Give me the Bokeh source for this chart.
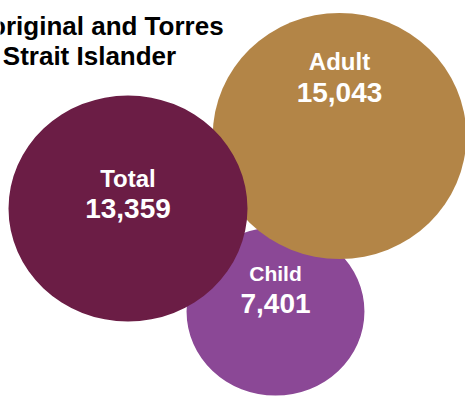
from bokeh.plotting import figure
from bokeh.models import ColumnDataSource
from bokeh.core.properties import value
from bokeh.embed import file_html
from bokeh.resources import INLINE
import math

# ---- data ----
categories = ["Total", "Adult", "Child"]
values = [13359, 15043, 7401]
colors = ["#6B1D45", "#B38547", "#8B4896"]
title_lines = ["Aboriginal and Torres", "Strait Islander"]

# ---- layout (bubble placement) ----
centers_x = [127.5, 339.0, 275.0]
centers_y = [208.0, 135.5, 311.0]
aspect = [0.946, 0.97, 0.946]
scale_h = 119.5 / math.sqrt(13359)
label_dy = [-30.5, -74.5, -38]
number_dy = [0, -43.5, -8.5]
label_sizes = ["24px", "24px", "21px"]
draw_order = [2, 1, 0]

W, H = 465, 396
p = figure(width=W, height=H, x_range=(0, W), y_range=(H, 0),
           output_backend="svg", toolbar_location=None, min_border=0)
p.axis.visible = False
p.grid.visible = False
p.outline_line_color = None
p.background_fill_color = "white"

src = ColumnDataSource(dict(
    x=[centers_x[i] for i in draw_order],
    y=[centers_y[i] for i in draw_order],
    w=[2 * scale_h * math.sqrt(values[i]) for i in draw_order],
    h=[2 * scale_h * aspect[i] * math.sqrt(values[i]) for i in draw_order],
    c=[colors[i] for i in draw_order],
))
p.ellipse(x="x", y="y", width="w", height="h", fill_color="c", line_color=None, source=src)

for i in range(len(categories)):
    p.text(x=[centers_x[i]], y=[centers_y[i] + label_dy[i]], text=[categories[i]],
           text_font=value("Liberation Sans"), text_font_style="bold",
           text_font_size=label_sizes[i], text_color="white",
           text_align="center", text_baseline="middle")
    p.text(x=[centers_x[i]], y=[centers_y[i] + number_dy[i]], text=[f"{values[i]:,}"],
           text_font=value("Liberation Sans"), text_font_style="bold",
           text_font_size="28px", text_color="white",
           text_align="center", text_baseline="middle")

p.text(x=[89, 89], y=[25.5, 55], text=title_lines,
       text_font=value("Liberation Sans"), text_font_style="bold",
       text_font_size="26px", text_color="black",
       text_align="center", text_baseline="middle")

open("out.html", "w").write(file_html(p, INLINE))
